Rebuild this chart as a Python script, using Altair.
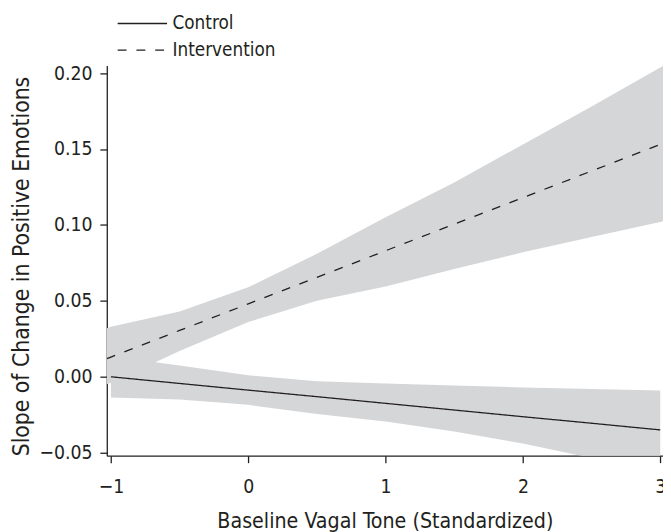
import altair as alt
import pandas as pd

# ---- data ----
groups = ["Control", "Intervention"]

ctrl_x = [-1.0, -0.5, 0.0, 0.5, 1.0, 1.5, 2.0, 2.5, 3.0]
ctrl_fit = [0.0, -0.0044, -0.0088, -0.0131, -0.0175, -0.0219, -0.0263, -0.0306, -0.035]
ctrl_upper = [0.0135, 0.0075, 0.001, -0.003, -0.0045, -0.0058, -0.007, -0.008, -0.009]
ctrl_lower = [-0.0136, -0.015, -0.0185, -0.0245, -0.0295, -0.036, -0.044, -0.0535, -0.064]

int_x = [-1.03, -1.0, -0.5, 0.0, 0.5, 1.0, 1.5, 2.0, 2.5, 3.0, 3.02]
int_fit = [0.012, 0.013, 0.0305, 0.048, 0.0655, 0.083, 0.1005, 0.118, 0.1355, 0.153, 0.154]
int_upper = [0.032, 0.033, 0.043, 0.059, 0.081, 0.105, 0.128, 0.153, 0.178, 0.2037, 0.2047]
int_lower = [-0.005, -0.004, 0.017, 0.036, 0.050, 0.0595, 0.071, 0.082, 0.092, 0.102, 0.1025]

x_ticks = [-1, 0, 1, 2, 3]
y_ticks = [-0.05, 0.0, 0.05, 0.10, 0.15, 0.20]

rows = []
for x, f, u, l in zip(ctrl_x, ctrl_fit, ctrl_upper, ctrl_lower):
    rows.append({"x": x, "fit": f, "upper": u, "lower": l, "group": groups[0]})
for x, f, u, l in zip(int_x, int_fit, int_upper, int_lower):
    rows.append({"x": x, "fit": f, "upper": u, "lower": l, "group": groups[1]})
df = pd.DataFrame(rows)

FONT = "DejaVu Sans Condensed, sans-serif"
INK = "#231f20"
BAND = "#d5d6d8"

xscale = alt.Scale(domain=[-1.03, 3.02], nice=False, zero=False)
yscale = alt.Scale(domain=[-0.052, 0.205], nice=False, zero=False)

base = alt.Chart(df)

bands = base.mark_area(color=BAND, opacity=1, clip=True).encode(
    x=alt.X("x:Q", scale=xscale),
    y=alt.Y("lower:Q", scale=yscale),
    y2="upper:Q",
    detail="group:N",
)

lines = base.mark_line(color=INK, strokeWidth=1.3, clip=True).encode(
    x=alt.X(
        "x:Q",
        scale=xscale,
        axis=alt.Axis(
            values=x_ticks,
            format="d",
            title="Baseline Vagal Tone (Standardized)",
        ),
    ),
    y=alt.Y(
        "fit:Q",
        scale=yscale,
        axis=alt.Axis(
            values=y_ticks,
            format=".2f",
            title="Slope of Change in Positive Emotions",
            titleFontSize=23,
            titleY=203,
        ),
    ),
    strokeDash=alt.StrokeDash(
        "group:N",
        scale=alt.Scale(domain=groups, range=[[1, 0], [9, 10]]),
        legend=alt.Legend(
            title=None,
            orient="none",
            legendX=9,
            legendY=-52,
            symbolType="M-10,0H10",
            symbolSize=25,
            symbolOffset=17.5,
            labelOffset=21,
            symbolStrokeColor=INK,
            symbolStrokeWidth=1.3,
            labelFont=FONT,
            labelFontSize=19,
            labelColor=INK,
            rowPadding=7,
            padding=0,
        ),
    ),
)

chart = (
    alt.layer(bands, lines)
    .properties(
        width=563,
        height=395,
        padding={"left": 100, "top": 55, "right": 0, "bottom": 74},
        autosize=alt.AutoSizeParams(type="none"),
    )
    .configure_view(stroke=None)
    .configure_axis(
        grid=False,
        domainColor=INK,
        domainWidth=1.3,
        tickColor=INK,
        tickWidth=1.3,
        tickSize=7,
        labelFont=FONT,
        labelFontSize=19.5,
        labelColor=INK,
        titleFont=FONT,
        titleFontSize=21.5,
        titleFontWeight="normal",
        titleColor=INK,
    )
    .configure_axisX(labelPadding=15, titlePadding=15)
    .configure_axisY(labelPadding=8, titlePadding=6)
)

chart.save("out.html", embed_options={"renderer": "svg", "actions": False})
